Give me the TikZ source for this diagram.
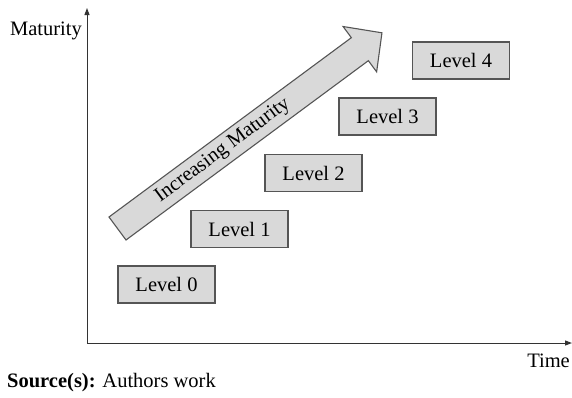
\documentclass[tikz,border=0pt]{standalone}
\usepackage{fontspec}
\setmainfont{Liberation Serif}
\usetikzlibrary{arrows.meta}
\definecolor{boxfill}{HTML}{D9D9D9}
\definecolor{boxline}{HTML}{555555}
\tikzset{
  levelbox/.style={draw=boxline, fill=boxfill, line width=1.1pt, minimum width=97pt, minimum height=37pt, inner sep=0pt, font=\fontsize{20.5}{24}\selectfont},
  axis/.style={draw=black!80, line width=1pt, -{Triangle[length=7pt,width=5pt]}},
  lbl/.style={font=\fontsize{20.5}{24}\selectfont, inner sep=0pt}
}
\begin{document}
\begin{tikzpicture}[x=1pt,y=-1pt]
\useasboundingbox (0,0) rectangle (572,397);
% axes
\coordinate (O) at (87,343);
\coordinate (Ytop) at (87,8);
\coordinate (Xend) at (572,343);
\draw[axis] (O) -- (Ytop);
\draw[axis] (O) -- (Xend);
\node[lbl, anchor=east] (ylab) at (82,31) {Maturity};
\node[lbl, anchor=east] (xlab) at (570,361) {Time};
\node[lbl, anchor=west] (src) at (7,383) {\textbf{Source(s):} Authors work};
% big arrow
\begin{scope}[shift={(117.5,228.5)}, rotate=36.5]
  \draw[draw=boxline, fill=boxfill, line width=1.1pt, line join=miter]
    (0,-14.3) -- (301.5,-14.3) -- (301.5,-28.2) -- (329,0) -- (301.5,28.2) -- (301.5,14.3) -- (0,14.3) -- cycle;
  \node[lbl, rotate=36.5] (arrtext) at (131,0) {Increasing Maturity};
\end{scope}
% levels
\node[levelbox] (l0) at (166.5,284.5) {Level 0};
\node[levelbox] (l1) at (239.5,229) {Level 1};
\node[levelbox] (l2) at (313.5,173) {Level 2};
\node[levelbox] (l3) at (387.5,116.5) {Level 3};
\node[levelbox] (l4) at (461,60.5) {Level 4};
\end{tikzpicture}
\end{document}
